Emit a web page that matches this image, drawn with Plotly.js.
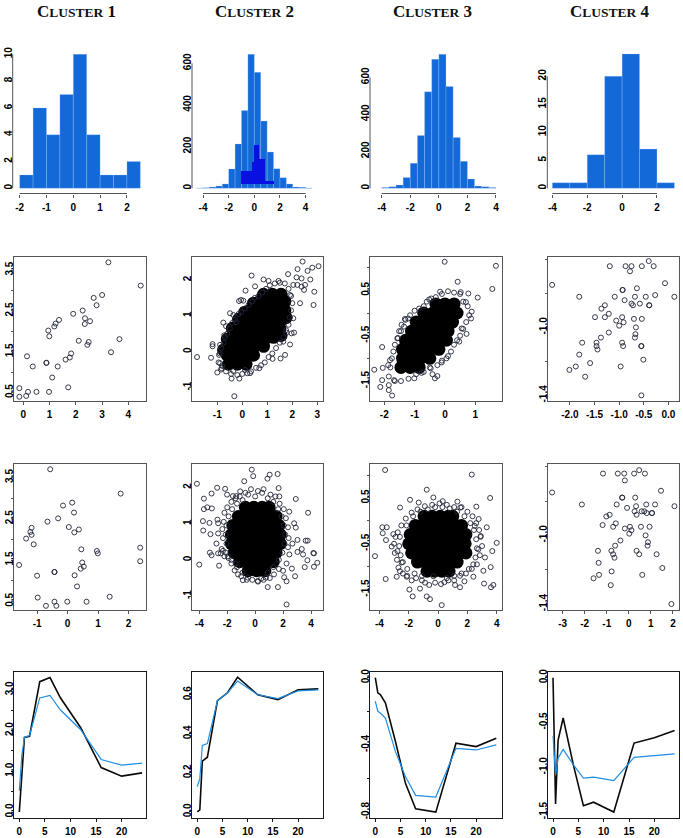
<!DOCTYPE html>
<html><head><meta charset="utf-8">
<script src="https://cdn.plot.ly/plotly-3.0.1.min.js"></script>
<style>html,body{margin:0;padding:0;background:#fff}</style></head>
<body><div id="chart" style="width:683px;height:838px"></div>
<script>
// ---------- titles ----------
const clusterNames = ["1","2","3","4"];
// ---------- histograms ----------
const hist1Edges = [-2,-1.5,-1,-0.5,0,0.5,1,1.5,2];
const hist1Counts = [1,6,4,7,10,4,1,1,2];
const hist2Edges = [-4.5,-4,-3.5,-3,-2.5,-2,-1.5,-1,-0.5,0,0.5,1,1.5,2,2.5,3,3.5,4];
const hist2Counts = [2,3,6,11,21,93,213,373,643,557,323,174,94,51,21,6,5,2];
const hist2DarkLeft = [-1,-0.2,0,0.33,0.85];
const hist2DarkRight = [-0.2,0,0.33,0.85,1.5];
const hist2DarkTop = [85,128,208,139,35];
const hist2DarkBase = 21;
const hist3Edges = [-4,-3.5,-3,-2.5,-2,-1.5,-1,-0.5,0,0.5,1,1.5,2,2.5,3,3.5];
const hist3Counts = [5,9,18,58,135,286,522,697,724,550,274,146,50,12,9,5];
const hist4Edges = [-4,-3,-2,-1,0,1,2];
const hist4Counts = [1,1,6,20,24,7,1];
// ---------- scatter: row 2 ----------
const s21x = [-.15,-.15,.11,.18,.5,.98,1.1,1.71,1.31,.88,.88,.36,.14,.99,.95,1.18,1.23,1.36,1.9,2.26,2.35,2.34,2.54,2.68,2.79,3,3.24,4.47,3.66,3.34,2.11,2.49,2.44,1.82,1.77,1.61];
const s21y = [.61,.4,.42,.52,.52,.52,.87,.63,1.14,1.23,1.23,1.14,1.39,1.88,2.02,2.12,2.19,2.28,2.43,2.51,2.32,2.18,2.25,2.82,2.64,2.89,3.69,3.12,1.81,1.49,1.77,1.74,1.67,1.46,1.36,1.31];
const s22x = [-1.81,-1.25,-.32,-.43,-.12,-1,.37,.13,.51,.85,1.05,-.13,.04,-.05,-.49,-.36,-.25,-.76,-.65,-.72,-1.19,-1.19,-.89,-.93,-.89,-.83,2.41,2.21,2.61,2.8,3.05,2.17,2.37,2.72,1.83,2.88,2.85,2.04,2.2,2.37,2.51,2.47,2.31,2.04,1.97,2.07,1.91,1.77,1.64,1.71,1.53,1.21,.68,.31,.11,-.36,1.45,1.91,
  -.95,-.9,-.85,-.75,-.7,-.6,-.5,-.4,-.3,-.15,-.05,.1,.25,.4,.5,.65,.8,.95,1.1,1.3,1.5,1.7,1.85,1.95,2,1.95,1.9,1.85,1.75,1.65,1.5,1.35,1.2,1.05,.9,.75,.55,.35,.2,0,-.2,-.45,-.65,-.85,-.8];
const s22y = [-.15,-.17,-1.24,-.75,-.75,-.58,2.12,1.7,1.82,2.01,1.97,1.41,1.42,1.44,1.07,1.02,.82,.81,.71,.46,.21,.15,.19,-.09,-.32,-.46,2.51,2.3,2.25,2.34,2.38,2.07,2.04,2.01,2.16,1.67,1.3,1.86,1.86,1.81,1.86,1.72,1.35,.93,.51,.53,.2,.53,.28,-.09,-.19,-.2,-.46,-.6,-.51,-.54,1.97,1.58,
  -.3,-.05,.1,.25,.4,.5,.65,.8,.9,1.05,1.1,1.2,1.3,1.4,1.5,1.55,1.65,1.75,1.85,1.9,1.92,1.9,1.75,1.55,1.35,1.15,.95,.75,.6,.4,.25,.1,-.05,-.15,-.3,-.38,-.45,-.55,-.6,-.62,-.65,-.62,-.55,-.5,-.4];
const s22coreX = [-.55,-.2,.15,-.6,-.25,.1,.45,-.55,-.2,.15,.5,.85,-.4,-.05,.3,.65,1,1.25,-.2,.15,.5,.85,1.2,1.5,0,.35,.7,1.05,1.4,1.6,.3,.65,1,1.35,1.7,.7,1.05,1.4,1.7,1.2,1.55,
  -.75,-.6,-.4,-.15,.1,.45,.85,1.75,1.55];
const s22coreY = [-.35,-.35,-.35,-.1,-.1,-.1,-.1,.15,.15,.15,.15,.15,.4,.4,.4,.4,.4,.4,.65,.65,.65,.65,.65,.65,.9,.9,.9,.9,.9,.9,1.15,1.15,1.15,1.15,1.15,1.4,1.4,1.4,1.4,1.6,1.6,
  .05,.35,.65,.9,1.1,1.35,1.6,.95,.45];
const s23x = [-.01,1.68,1.56,.42,-2.07,-2.33,-2.05,-2.07,-2.13,-1.85,-1.74,-1.85,-1.68,-1.01,-.77,-.33,-.25,-.47,-.41,-.11,.05,.47,.71,.86,1.08,.77,.52,-.16,-.52,-1.21,-1.32,-1.43,-1.51,-1.57,-1.81,-1.87,.69,.88,.55,
  -1.85,-1.8,-1.75,-1.7,-1.65,-1.55,-1.45,-1.35,-1.3,-1.15,-1,-.85,-.7,-.6,-.45,-.3,-.1,.1,.3,.5,.6,.75,.8,.7,.6,.5,.4,.3,.2,.1,-.1,-.25,-.5,-.7,-.95,-1.2,-1.45,-1.65];
const s23y = [1.13,1.04,.53,.69,-.75,-1.25,-1.21,-1.48,-1.63,-1.7,-1.82,-1.59,-1.48,-1.44,-1.32,-1.44,-1.39,-1.22,-1.35,-1.09,-1,-.63,-.46,-.12,.34,.43,.46,.47,.3,-.12,-.13,-.26,-.4,-.56,-1.04,-1.15,.24,.03,-.34,
  -1.4,-1.2,-1,-.85,-.7,-.55,-.4,-.3,-.15,-.05,.05,.1,.15,.25,.32,.35,.42,.48,.45,.42,.25,.15,-.05,-.2,-.35,-.5,-.6,-.7,-.85,-.95,-1.05,-1.15,-1.2,-1.3,-1.35,-1.45,-1.5,-1.5];
const s23coreX = [-1.45,-1.15,-.85,-1.4,-1.1,-.8,-.5,-1.4,-1.1,-.8,-.5,-.2,-1.3,-1,-.7,-.4,-.1,.05,-1.1,-.8,-.5,-.2,.1,-.95,-.65,-.35,-.05,.25,-.7,-.4,-.1,.2,.4,-.3,0,.3];
const s23coreY = [-1.2,-1.2,-1.2,-1,-1,-1,-1,-.8,-.8,-.8,-.8,-.8,-.6,-.6,-.6,-.6,-.6,-.6,-.4,-.4,-.4,-.4,-.4,-.2,-.2,-.2,-.2,-.2,0,0,0,0,0,.2,.2,.2];
const s24x = [-2.36,-1.19,-.87,-.75,-.78,-.54,-.4,-.3,-.07,.12,-.93,-.93,-.64,-1.09,-1.81,-.68,-.46,-.27,-.89,-.75,-.72,-.58,-.39,-.39,-1.29,-1.36,-1.21,-1.29,-1.49,-.94,-1.06,-.91,-1,-.7,-.54,-.66,-1.21,-.67,-.68,-1.37,-1.75,-1.46,-1.46,-1.44,-.94,-.92,-.55,-.55,-1.81,-1.59,-.51,-.97,-1.88,-2.01,-1.69,-.55];
const s24y = [-.75,-.64,-.64,-.64,-.67,-.64,-.61,-.64,-.74,-.82,-.78,-.78,-.77,-.82,-.82,-.82,-.82,-.81,-.84,-.86,-.87,-.86,-.87,-.87,-.87,-.89,-.92,-.94,-.94,-.94,-.96,-.97,-.99,-.95,-.95,-1,-1.03,-1.04,-1.06,-1.06,-1.09,-1.09,-1.11,-1.13,-1.09,-1.11,-1.11,-1.11,-1.16,-1.21,-1.19,-1.23,-1.23,-1.25,-1.29,-1.4];
// ---------- scatter: row 3 ----------
const s31x = [-.57,1.74,.15,-.15,-.31,.21,-.66,.04,-1.18,-1.22,-1.18,-1.36,.37,.22,-1.11,.45,2.38,.96,.99,2.38,-1.59,.48,.53,.43,-.43,-.43,-1,.23,.31,-.98,1.38,-.71,-.43,-.37,-.01,.62];
const s31y = [3.7,3.11,2.89,2.82,2.51,2.65,2.43,2.3,2.28,2.18,2.11,2.02,2.24,2.17,1.88,1.76,1.8,1.72,1.66,1.47,1.38,1.44,1.34,1.29,1.21,1.21,1.12,1.13,.86,.59,.61,.39,.49,.39,.49,.49];
const s32x = [-4.17,-.24,-.14,1.61,1.04,.88,-.78,-2.72,-2.15,-3.12,-3.67,-3.43,-3.67,-3.1,-1.07,-2.01,-1.59,-1.35,-3.74,-3.27,-2.7,-3.72,-3.2,-2.65,-2.65,-2.77,-3.24,-3.12,-2.65,-2.46,-4,-2.58,2.91,3.79,1.68,1.73,2.44,2.79,2.91,3.62,3.76,3.03,2.67,3.34,3.03,3.43,4.17,4.21,3.74,4.45,4.21,3.55,2.86,2.63,2.25,2.08,2.25,1.63,.9,.43,.78,.19,-.88,-.52,-1.47,-1.23,
  -2.1,-2.05,-2.1,-2.05,-1.9,-1.65,-1.3,-.9,-.5,0,.5,.9,1.3,1.65,1.9,2.05,2.15,2.1,1.95,1.7,1.3,.9,-.9,-1.3,-1.7,-1.95,
  -2.4,-2.3,-2.35,-2.25,-2.2,-2,-1.7,-1.4,-1.1,-.7,-.3,.2,.6,1.1,1.45,1.75,2.05,2.2,2.35,2.4,2.35,2.45,2.25,2,1.7,1.35,1.05,.6,.2,-.2,-.6,-1,-1.4,-1.7,-1.9,-2.2,-2.3];
const s32y = [2.1,2.49,2.31,2.37,2.35,2.24,2.17,1.99,1.96,1.83,1.69,1.45,1.4,1.42,1.89,1.8,1.76,1.76,1.07,1.02,1.11,.81,.71,1.01,.73,.45,.2,.13,.18,.18,-.13,-.16,1.68,1.3,1.98,1.75,1.33,1.01,.89,.53,.53,.55,.45,.3,.22,.15,.19,.18,-.01,-.08,-.19,-.2,-.45,-.24,-.59,-.48,-1.23,-.75,-.75,-.52,-.49,-.58,-.56,-.49,-.29,-.4,
  .2,.45,.7,.95,1.2,1.4,1.55,1.65,1.8,1.75,1.85,1.7,1.6,1.4,1.2,.95,.7,.45,.2,0,-.2,-.35,-.35,-.2,0,.1,
  .3,.6,.85,1.05,1.3,1.45,1.6,1.7,1.75,1.85,1.95,1.9,1.95,1.8,1.75,1.55,1.4,1.15,.9,.6,.35,.15,-.1,-.3,-.25,-.4,-.5,-.55,-.6,-.55,-.55,-.45,-.1,-.1,.05,.1,.25];
const s32coreX = [-.5,.1,.7,-1.1,-.5,.1,.7,1.3,-1.5,-.9,-.3,.3,.9,1.5,-1.7,-1.1,-.5,.1,.7,1.3,1.8,-1.7,-1.1,-.5,.1,.7,1.3,1.8,-1.6,-1,-.4,.2,.8,1.4,1.7,-1.2,-.6,0,.6,1.2,1.5,-.7,-.1,.5,1];
const s32coreY = [-.3,-.3,-.3,-.05,-.05,-.05,-.05,-.05,.2,.2,.2,.2,.2,.2,.45,.45,.45,.45,.45,.45,.45,.7,.7,.7,.7,.7,.7,.7,.95,.95,.95,.95,.95,.95,.95,1.2,1.2,1.2,1.2,1.2,1.2,1.45,1.45,1.45,1.45];
const s33x = [-3.61,2.3,-.77,3.55,-1.91,-1.32,-.32,.32,1.32,-2.59,2.61,1.52,2.77,3.32,2.5,-3.8,-3.5,-3.77,-3.55,-3.05,-3.16,2.91,4,3.7,2.75,3.2,-4.3,3.59,3.09,3.14,3.77,3.61,-3.57,-2.82,-1.95,-1.73,-1.23,-.77,-.55,.25,1.16,1.5,1.8,2.41,-2.7,-2.48,-2.77,-2.14,.43,-.89,-.32,
  -2.6,-2.65,-2.55,-2.4,-2.15,-1.7,-1.2,-.7,-.2,.3,.8,1.3,1.8,2.2,2.45,2.6,2.65,2.55,2.4,2.1,1.6,1.1,.6,-1.1,-1.6,-2.1,
  -2.9,-3,-2.95,-2.8,-2.6,-2.4,-2.1,-1.8,-1.5,-1.1,-.6,-.2,.2,.7,1.1,1.5,1.9,2.3,2.65,2.85,3,2.9,2.8,2.6,2.35,2,1.6,1.1,.6,.1,-.4,-.9,-1.4,-1.8,-2.2,-2.5,-2.75];
const s33y = [1.11,1.01,.68,.5,.46,.4,.51,.43,.42,.29,.31,.29,.04,-.14,-.11,-.14,-.14,-.27,-.42,-.29,-.56,-.33,-.48,-.66,-.62,-.8,-.77,-1.01,-1.09,-1.37,-1.4,-1.45,-1.27,-1.22,-1.5,-1.65,-1.48,-1.65,-1.71,-1.84,-1.4,-1.45,-1.32,-1.22,-1.02,-.91,-.66,-1.22,-1.34,-1.35,-1.21,
  -.35,-.55,-.75,-.9,-.1,.1,.2,.25,.3,.3,.27,.2,.1,-.05,-.2,-.4,-.6,-.8,-.95,-1.05,-1.15,-1.2,-1.25,-1.2,-1.15,-1.05,
  -.35,-.5,-.7,-.85,-1.1,-1.15,-1.2,-1.3,-1.25,-1.3,-1.4,-1.35,-1.38,-1.3,-1.3,-1.2,-1.15,-1.05,-.95,-.75,-.55,-.35,-.2,-.05,.1,.2,.3,.3,.35,.38,.35,.32,.25,.18,.05,-.1,-.25];
const s33coreX = [-.75,-.25,.25,.75,-1.4,-.9,-.35,.2,.75,1.3,-1.8,-1.25,-.7,-.15,.4,.95,1.5,1.9,-2,-1.45,-.9,-.35,.2,.75,1.3,1.85,-1.9,-1.35,-.8,-.25,.3,.85,1.4,1.9,-1.55,-1,-.45,.1,.65,1.2,1.6,-.95,-.4,.15,.7,1];
const s33coreY = [-1.1,-1.1,-1.1,-1.1,-.9,-.9,-.9,-.9,-.9,-.9,-.7,-.7,-.7,-.7,-.7,-.7,-.7,-.7,-.5,-.5,-.5,-.5,-.5,-.5,-.5,-.5,-.3,-.3,-.3,-.3,-.3,-.3,-.3,-.3,-.1,-.1,-.1,-.1,-.1,-.1,-.1,.1,.1,.1,.1,.1];
const s34x = [-3.48,-1.17,-.5,-.21,-.18,.24,.47,.73,1.46,2.07,-2.13,-.3,-.3,.29,-.55,.33,.79,1.19,-.08,.26,.35,.58,.7,1.05,1.05,.81,-.87,-1.02,-1.19,-.59,-.71,-.18,.05,.12,.02,.55,.94,.76,-.38,.87,.85,-.62,.35,-1.4,-.79,-.71,-.65,.47,1.26,-1.37,1.52,-.78,-1.35,.61,-1.6,-.82,1.93];
const s34y = [-.75,-.64,-.64,-.64,-.68,-.64,-.62,-.64,-.74,-.83,-.82,-.78,-.78,-.78,-.82,-.83,-.82,-.82,-.84,-.86,-.88,-.86,-.86,-.87,-.87,-.87,-.88,-.89,-.94,-.93,-.95,-.96,-.95,-.97,-.99,-.95,-.95,-1,-1.03,-1.04,-1.06,-1.06,-1.09,-1.09,-1.09,-1.11,-1.13,-1.11,-1.11,-1.16,-1.19,-1.21,-1.23,-1.23,-1.25,-1.29,-1.4];
// ---------- time courses: row 4 ----------
const hours = [0,0.5,1,2,4,6,8,12,16,20,24];
const c1Black = [0,1.0,1.83,1.86,3.2,3.3,2.81,2.07,1.09,.88,.96];
const c1Blue  = [.52,1.4,1.83,1.88,2.8,2.86,2.51,2.02,1.29,1.15,1.2];
const c2Black = [0,.01,.26,.28,.57,.61,.69,.6,.575,.625,.63];
const c2Blue  = [.13,.17,.34,.35,.57,.61,.67,.6,.58,.62,.625];
const c3Black = [0,-.09,-.1,-.15,-.38,-.63,-.78,-.8,-.39,-.41,-.36];
const c3Blue  = [-.14,-.2,-.21,-.24,-.44,-.59,-.7,-.71,-.42,-.43,-.4];
const c4Black = [0,-1.41,-.7,-.45,-.97,-1.43,-1.39,-1.5,-.73,-.67,-.59];
const c4Blue  = [-.65,-1.09,-.9,-.8,-.97,-1.12,-1.11,-1.15,-.89,-.87,-.85];
// ---------- axis ticks ----------
const tkHistX = [[-2,-1,0,1,2],[-4,-2,0,2,4],[-4,-2,0,2,4],[-4,-2,0,2]];
const tkHistY = [[0,2,4,6,8,10],[0,200,400,600],[0,200,400,600],[0,5,10,15,20]];
const tkS2X = [[0,1,2,3,4],[-1,0,1,2,3],[-2,-1,0,1],[-2,-1.5,-1,-.5,0]];
const lbS2X = [["0","1","2","3","4"],["-1","0","1","2","3"],["-2","-1","0","1"],["-2.0","-1.5","-1.0","-0.5","0.0"]];
const tkS3X = [[-1,0,1,2],[-4,-2,0,2,4],[-4,-2,0,2,4],[-3,-2,-1,0,1,2]];
const tkSY = [[.5,1,1.5,2,2.5,3,3.5],[-1,0,1,2],[-1.5,-1,-.5,0,.5,1],[-1.4,-1.2,-1,-.8,-.6]];
const lbSY = [["0.5","","1.5","","2.5","","3.5"],["-1","0","1","2"],["-1.5","","-0.5","","0.5",""],["-1.4","","-1.0","",""]];
const tkLineX = [0,5,10,15,20];
const tkLineY = [[0,.5,1,1.5,2,2.5,3],[0,.2,.4,.6],[0,-.2,-.4,-.6,-.8],[0,-.5,-1,-1.5]];
const lbLineY = [["0.0","","1.0","","2.0","","3.0"],["0.0","0.2","0.4","0.6"],["0.0","","-0.4","","-0.8"],["0.0","-0.5","-1.0","-1.5"]];

// ---------- layout frames (pixels of the page) ----------
const W = 683, H = 838;
const colX = [[14.3,145.7],[192.3,323.3],[370,501.7],[547.7,679.3]];
const histLeft = [12.7,192,370,547.3];
const rowY = [[50,193.5],[257,401],[464.3,609.7],[672.3,817.7]];
const titleX = [76,254,432,610];
const rangeHistX = [[-2.26,2.70],[-4.86,5.38],[-4.82,4.4],[-4.29,3.28]];
const rangeHistY = [[-.39,10.32],[-25,664],[-28,747.6],[-.93,24.7]];
const rangeS2X = [[-.343,4.66],[-2,3.24],[-2.47,1.87],[-2.45,.22]];
const rangeS3X = [[-1.747,2.56],[-4.5,4.88],[-4.64,4.34],[-3.68,2.29]];
const rangeSY = [[.296,3.82],[-1.374,2.637],[-1.94,1.235],[-1.433,-.586]];
const rangeLineX = [[-.98,24.7],[-.99,25],[-1.05,25.07],[-1.05,24.93]];
const rangeLineY = [[-.14,3.43],[-.03,.715],[-.833,.032],[-1.563,.06]];

const axisColor = '#555';
const darkAxis = '#1a1a1a';
const tickFont = {family:'"Liberation Sans", Arial, sans-serif', size:10, color:'#000', weight:700};
const layout = {width:W,height:H,margin:{l:0,r:0,t:0,b:0},paper_bgcolor:'#fff',plot_bgcolor:'#fff',showlegend:false,bargap:0,barmode:'overlay',annotations:[],shapes:[]};
const data = [];
let axisIndex = 0;

function panel(left,right,row,xr,yr,xt,xl,yt,yl,box,color){
  axisIndex++;
  const sfx = axisIndex===1?'':String(axisIndex);
  const col = color||axisColor;
  const base = {showgrid:false,zeroline:false,tickmode:'array',ticks:'outside',ticklen:3,tickwidth:1,tickcolor:col,tickfont:tickFont,fixedrange:true};
  const line = box?{showline:true,linecolor:col,linewidth:1,mirror:true}:{showline:false};
  layout['xaxis'+sfx] = Object.assign({},base,line,{domain:[left/W,right/W],range:xr,tickvals:xt,ticktext:xl||xt.map(String),anchor:'y'+sfx,ticklabelstandoff:1});
  layout['yaxis'+sfx] = Object.assign({},base,line,{domain:[1-rowY[row][1]/H,1-rowY[row][0]/H],range:yr,tickvals:yt,ticktext:yl||yt.map(String),anchor:'x'+sfx,tickangle:-90,ticklen:2,ticklabelstandoff:-6});
  if(!box){
    layout.shapes.push({type:'line',xref:'x'+sfx,yref:'y'+sfx+' domain',x0:xt[0],x1:xt[xt.length-1],y0:0,y1:0,line:{color:col,width:1}});
    layout.shapes.push({type:'line',xref:'x'+sfx+' domain',yref:'y'+sfx,x0:0,x1:0,y0:yt[0],y1:yt[yt.length-1],line:{color:col,width:1}});
  }
  return {xaxis:'x'+sfx,yaxis:'y'+sfx};
}
function histTrace(ax,edges,counts,w){
  data.push(Object.assign({type:'bar',x:edges.map(e=>e+w/2),y:counts,width:w,marker:{color:'#1469d9',line:{color:'rgba(170,205,250,0.55)',width:.5}},hoverinfo:'skip'},ax));
}
function ringTrace(ax,x,y){
  data.push(Object.assign({type:'scatter',mode:'markers',x:x,y:y,marker:{symbol:'circle-open',size:5,color:'#23283a',line:{width:.9,color:'#23283a'}},hoverinfo:'skip',cliponaxis:false},ax));
}
function coreTrace(ax,x,y){
  data.push(Object.assign({type:'scatter',mode:'markers',x:x,y:y,marker:{symbol:'circle',size:13,color:'#000'},hoverinfo:'skip'},ax));
}
function lineTrace(ax,y,color,w){
  data.push(Object.assign({type:'scatter',mode:'lines',x:hours,y:y,line:{color:color,width:w},hoverinfo:'skip'},ax));
}

// row 1: histograms
const histEdges=[hist1Edges,hist2Edges,hist3Edges,hist4Edges], histCounts=[hist1Counts,hist2Counts,hist3Counts,hist4Counts], histW=[.5,.5,.5,1];
for(let c=0;c<4;c++){
  const ax = panel(histLeft[c],colX[c][1],0,rangeHistX[c],rangeHistY[c],tkHistX[c],null,tkHistY[c],null,false);
  histTrace(ax,histEdges[c],histCounts[c],histW[c]);
  if(c===1){
    data.push(Object.assign({type:'bar',x:hist2DarkLeft.map((l,i)=>(l+hist2DarkRight[i])/2),y:hist2DarkTop.map(t=>t-hist2DarkBase),base:hist2DarkBase,width:hist2DarkLeft.map((l,i)=>hist2DarkRight[i]-l),marker:{color:'#0810e2',line:{width:0}},hoverinfo:'skip'},ax));
  }
  layout.annotations.push({xref:'paper',yref:'paper',x:titleX[c]/W,y:1-12/H,xanchor:'center',yanchor:'middle',showarrow:false,
    text:'<b>C<span style="font-size:13.5px">LUSTER</span> '+clusterNames[c]+'</b>',font:{family:'"Liberation Serif",serif',size:17,color:'#111'}});
}
// row 2 and row 3: scatter
const s2X=[s21x,s22x,s23x,s24x], s2Y=[s21y,s22y,s23y,s24y], s2CX=[null,s22coreX,s23coreX,null], s2CY=[null,s22coreY,s23coreY,null];
const s3X=[s31x,s32x,s33x,s34x], s3Y=[s31y,s32y,s33y,s34y], s3CX=[null,s32coreX,s33coreX,null], s3CY=[null,s32coreY,s33coreY,null];
for(let c=0;c<4;c++){
  const ax = panel(colX[c][0],colX[c][1],1,rangeS2X[c],rangeSY[c],tkS2X[c],lbS2X[c],tkSY[c],lbSY[c],true);
  if(s2CX[c]) coreTrace(ax,s2CX[c],s2CY[c]);
  ringTrace(ax,s2X[c],s2Y[c]);
}
for(let c=0;c<4;c++){
  const ax = panel(colX[c][0],colX[c][1],2,rangeS3X[c],rangeSY[c],tkS3X[c],null,tkSY[c],lbSY[c],true);
  if(s3CX[c]) coreTrace(ax,s3CX[c],s3CY[c]);
  ringTrace(ax,s3X[c],s3Y[c]);
}
// row 4: time courses
const blacks=[c1Black,c2Black,c3Black,c4Black], blues=[c1Blue,c2Blue,c3Blue,c4Blue];
for(let c=0;c<4;c++){
  const ax = panel(colX[c][0],colX[c][1],3,rangeLineX[c],rangeLineY[c],tkLineX,null,tkLineY[c],lbLineY[c],true,darkAxis);
  lineTrace(ax,blacks[c],'#0a0a0a',1.6);
  lineTrace(ax,blues[c],'#1e8fe6',1.2);
}
Plotly.newPlot('chart',data,layout,{staticPlot:true,displayModeBar:false});
</script></body></html>
